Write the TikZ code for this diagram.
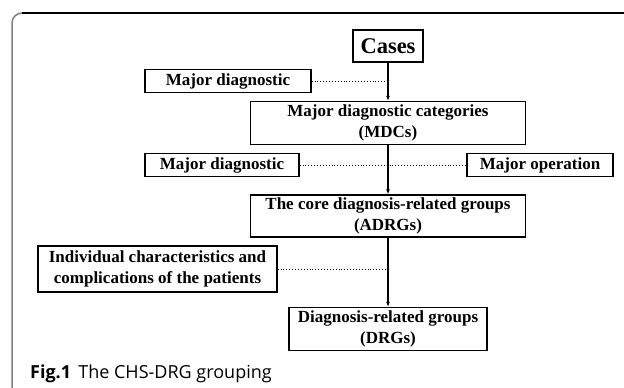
\documentclass[tikz,border=0pt]{standalone}
\usepackage{fontspec}
\setmainfont{Liberation Serif}
\newfontfamily\capfont{Open Sans}
\usetikzlibrary{arrows.meta}

\begin{document}
\begin{tikzpicture}[x=1pt,y=-1pt,
  box/.style={draw=black, line width=1.3pt, fill=white, inner sep=0pt,
    align=center, font=\fontsize{17}{21}\selectfont\bfseries},
  flow/.style={line width=1.1pt, -{Latex[length=5pt,width=4pt]}},
  link/.style={line width=0.9pt, dotted},
  junction/.style={fill=black}]
\useasboundingbox (0,0) rectangle (624,388);

% figure frame: rounded top-left corner
\draw[line width=1.5pt, black!50, rounded corners=10pt] (12,388) -- (12,13) -- (30,13);
\draw[line width=1.5pt, black] (22,13) -- (624,13);

% boxes of the grouping chain
\node[box, minimum width=70pt, minimum height=32pt,
  font=\fontsize{22.5}{26}\selectfont\bfseries] (cases) at (388,46) {Cases};
\node[box, minimum width=166pt, minimum height=23pt] (md1) at (228,81) {Major diagnostic};
\node[box, minimum width=275pt, minimum height=43pt] (mdc) at (388,123)
  {Major diagnostic categories\\(MDCs)};
\node[box, minimum width=154pt, minimum height=23pt] (md2) at (222,165) {Major diagnostic};
\node[box, minimum width=146pt, minimum height=23pt] (mop) at (540,165) {Major operation};
\node[box, minimum width=275pt, minimum height=42pt] (adrg) at (388,216)
  {The core diagnosis-related groups\\(ADRGs)};
\node[box, minimum width=239pt, minimum height=46pt] (ind) at (157.5,269)
  {Individual characteristics and\\complications of the patients};
\node[box, minimum width=198pt, minimum height=43pt] (drg) at (388,329)
  {Diagnosis-related groups\\(DRGs)};

% main flow
\draw[flow] (cases.south) -- (mdc.north);
\draw[flow] (mdc.south) -- (adrg.north);
\draw[flow] (adrg.south) -- (drg.north);

% criteria joining the flow
\coordinate (j1) at (md1.east -| cases.south);
\coordinate (j2) at (md2.east -| mdc.south);
\coordinate (j3) at (ind.east -| adrg.south);
\draw[link] (md1.east) -- (j1);
\draw[link] (md2.east) -- (mop.west);
\draw[link] (ind.east) -- (j3);
\fill[junction] (j1) circle (1.4pt);
\fill[junction] (j2) circle (1.4pt);
\fill[junction] (j3) circle (1.4pt);

% caption
\node[anchor=base west, inner sep=0pt, font=\capfont\fontsize{18}{22}\selectfont] (cap) at (30,378)
  {\textbf{Fig.1}\hspace{0.4em}The CHS-DRG grouping};
\end{tikzpicture}
\end{document}
